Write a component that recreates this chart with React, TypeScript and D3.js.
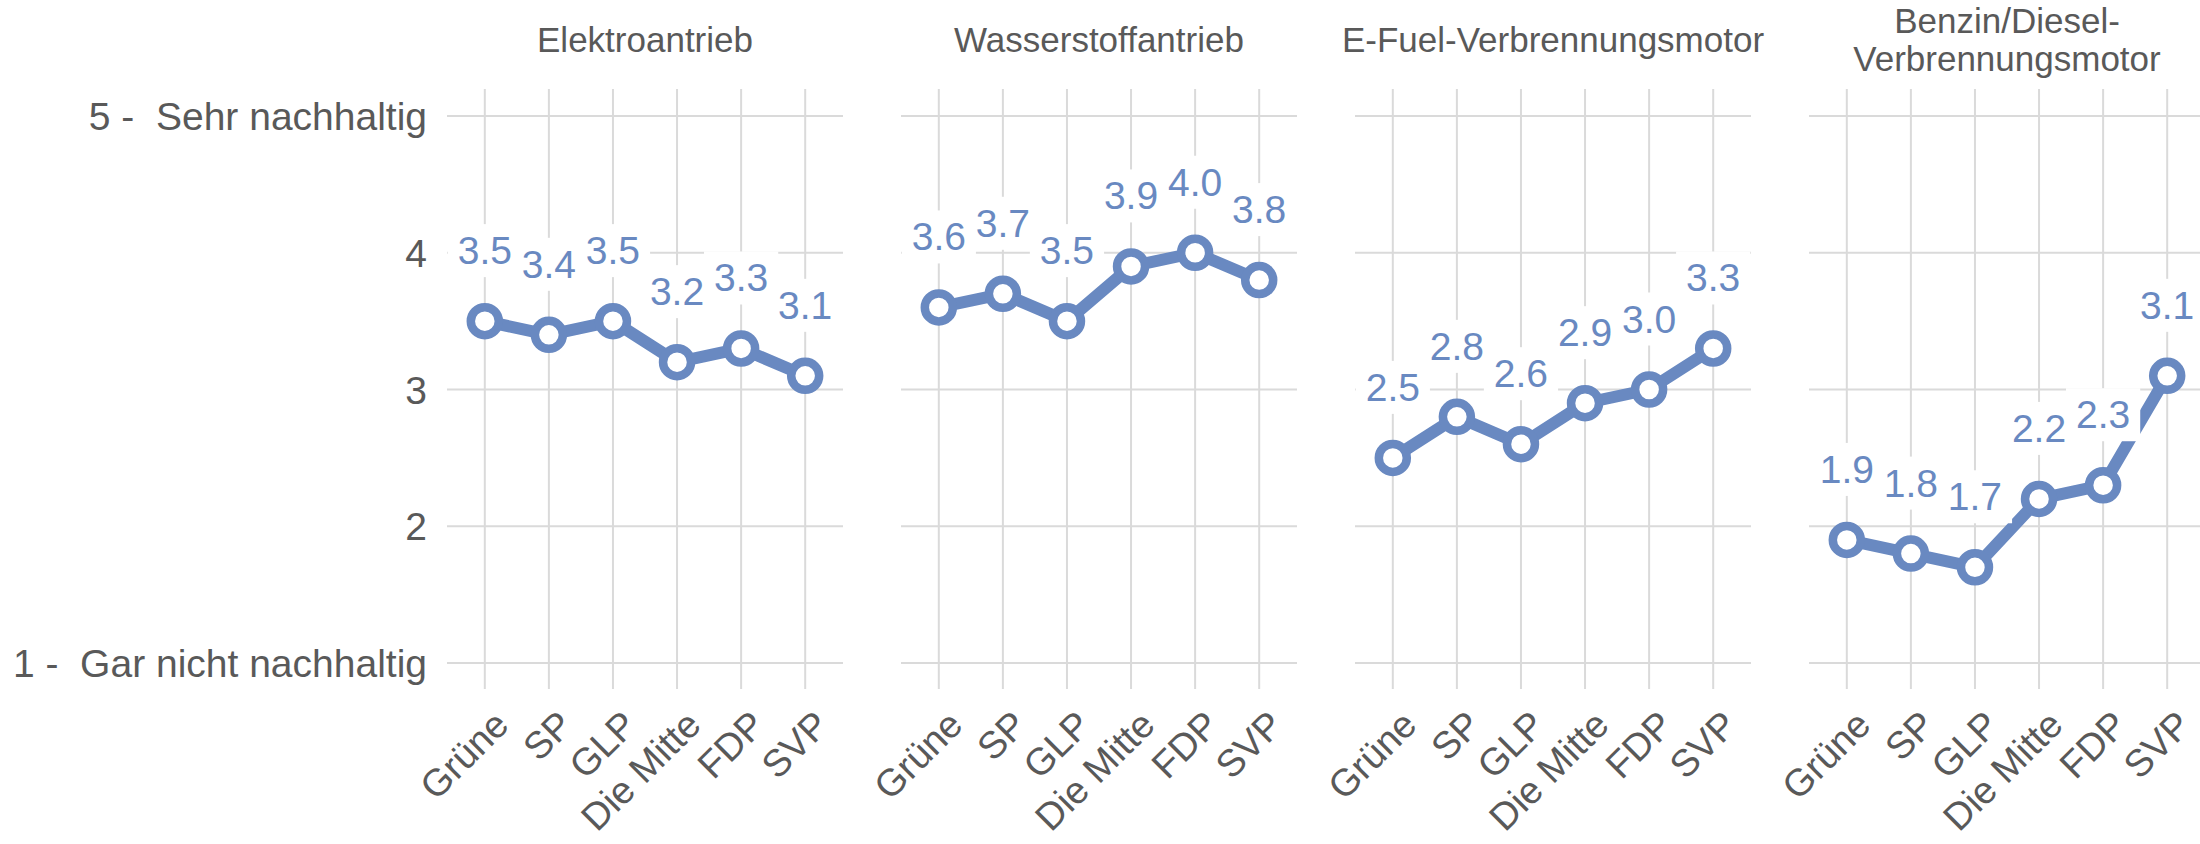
import React, { useEffect, useRef } from "react";
import * as d3 from "d3";

const parties = ["Grüne", "SP", "GLP", "Die Mitte", "FDP", "SVP"];
const panelTitles = [
  ["Elektroantrieb"],
  ["Wasserstoffantrieb"],
  ["E-Fuel-Verbrennungsmotor"],
  ["Benzin/Diesel-", "Verbrennungsmotor"],
];
const elektro = [3.5, 3.4, 3.5, 3.2, 3.3, 3.1];
const wasserstoff = [3.6, 3.7, 3.5, 3.9, 4.0, 3.8];
const efuel = [2.5, 2.8, 2.6, 2.9, 3.0, 3.3];
const benzin = [1.9, 1.8, 1.7, 2.2, 2.3, 3.1];
const yTicks = [1, 2, 3, 4, 5];
const yTickLabels = ["1 -  Gar nicht nachhaltig", "2", "3", "4", "5 -  Sehr nachhaltig"];

const series = [elektro, wasserstoff, efuel, benzin];

const W = 2200;
const H = 844;
const FONT = "'Liberation Sans', Arial, Helvetica, sans-serif";
const BLUE = "#6989c1";
const GREY = "#595959";
const GRID = "#dadada";

const App = () => {
  const ref = useRef<SVGSVGElement>(null);

  // panel layout
  const plotLeft = 447;
  const panelWidth = 396;
  const panelGap = 58;
  const panelTop = 89;
  const panelBottom = 689;

  useEffect(() => {
    const svg = d3.select(ref.current);
    svg.selectAll("*").remove();

    const yScale = d3.scaleLinear().domain([1, 5]).range([663, 116]);

    // y axis labels (only on the left)
    svg
      .append("g")
      .selectAll("text")
      .data(yTicks)
      .join("text")
      .attr("x", plotLeft - 20)
      .attr("y", (d) => yScale(d))
      .attr("dy", "0.36em")
      .attr("text-anchor", "end")
      .attr("font-size", 39)
      .attr("fill", GREY)
      .style("white-space", "pre")
      .text((d, i) => yTickLabels[i]);

    series.forEach((values, p) => {
      const left = plotLeft + p * (panelWidth + panelGap);
      const xScale = d3
        .scalePoint()
        .domain(parties)
        .range([left, left + panelWidth])
        .padding(0.59);

      const g = svg.append("g");

      // grid
      g.selectAll(".hgrid")
        .data(yTicks)
        .join("line")
        .attr("x1", left)
        .attr("x2", left + panelWidth)
        .attr("y1", (d) => yScale(d))
        .attr("y2", (d) => yScale(d))
        .attr("stroke", GRID)
        .attr("stroke-width", 2);

      g.selectAll(".vgrid")
        .data(parties)
        .join("line")
        .attr("x1", (d) => xScale(d))
        .attr("x2", (d) => xScale(d))
        .attr("y1", panelTop)
        .attr("y2", panelBottom)
        .attr("stroke", GRID)
        .attr("stroke-width", 2);

      // title
      const title = g
        .append("text")
        .attr("x", left + panelWidth / 2)
        .attr("text-anchor", "middle")
        .attr("font-size", 35)
        .attr("fill", GREY);
      const lines = panelTitles[p];
      const firstBaseline = lines.length === 1 ? 52 : 33;
      lines.forEach((ln, i) => {
        title
          .append("tspan")
          .attr("x", left + panelWidth / 2)
          .attr("y", firstBaseline + i * 38)
          .text(ln);
      });

      // x labels
      g.selectAll(".xlab")
        .data(parties)
        .join("text")
        .attr("transform", (d) => `translate(${xScale(d) + 26},${727}) rotate(-45)`)
        .attr("text-anchor", "end")
        .attr("font-size", 38)
        .attr("fill", GREY)
        .text((d) => d);

      const line = d3
        .line<number>()
        .x((d, i) => xScale(parties[i]))
        .y((d) => yScale(d));

      g.append("path")
        .datum(values)
        .attr("fill", "none")
        .attr("stroke", BLUE)
        .attr("stroke-width", 12)
        .attr("stroke-linejoin", "round")
        .attr("d", line);

      g.selectAll(".pt")
        .data(values)
        .join("circle")
        .attr("cx", (d, i) => xScale(parties[i]))
        .attr("cy", (d) => yScale(d))
        .attr("r", 14)
        .attr("fill", "white")
        .attr("stroke", BLUE)
        .attr("stroke-width", 8.5);

      // value labels with white box behind
      values.forEach((v, i) => {
        const lg = g.append("g");
        const rect = lg.append("rect").attr("fill", "white");
        const t = lg
          .append("text")
          .attr("x", xScale(parties[i]))
          .attr("y", yScale(v) - 57)
          .attr("text-anchor", "middle")
          .attr("font-size", 39)
          .attr("fill", BLUE)
          .text(d3.format(".1f")(v));
        const bb = (t.node() as SVGTextElement).getBBox();
        rect
          .attr("x", bb.x - 10)
          .attr("y", bb.y - 5)
          .attr("width", bb.width + 20)
          .attr("height", bb.height + 10);
      });
    });
  }, []);

  return (
    <svg
      ref={ref}
      width={W}
      height={H}
      style={{ position: "absolute", left: 0, top: 0, background: "white", fontFamily: FONT }}
    ></svg>
  );
};

export default App;
